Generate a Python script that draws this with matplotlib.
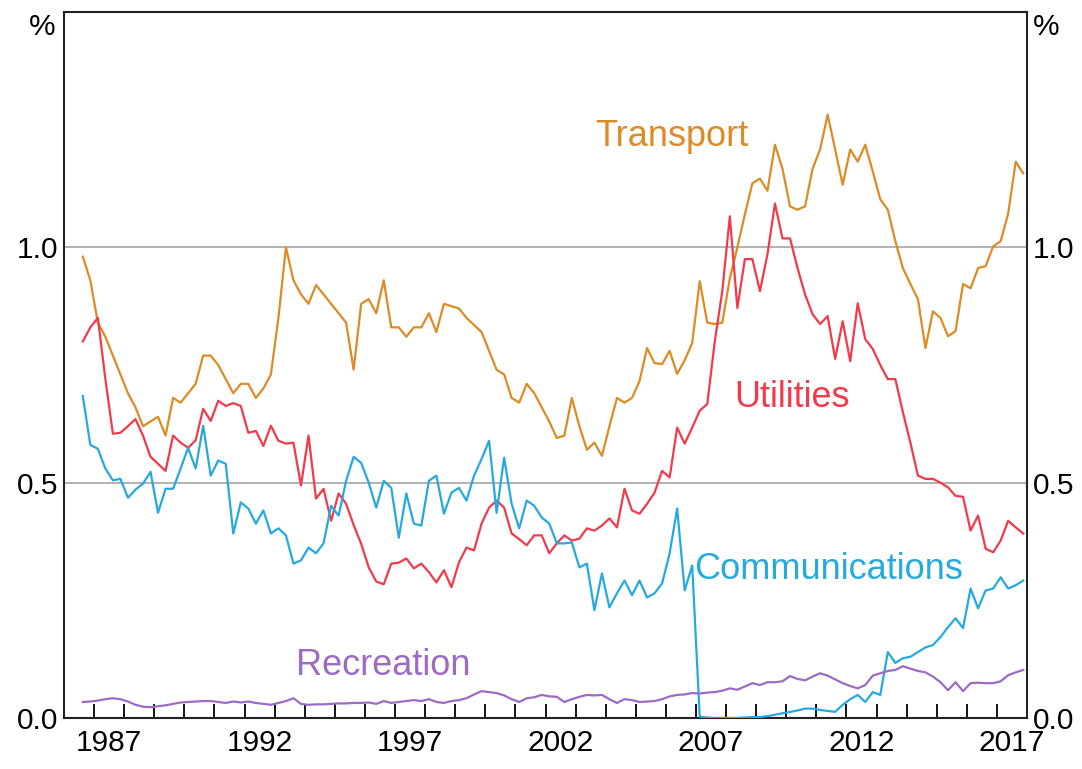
import numpy as np
import pandas as pd
import matplotlib
matplotlib.use("Agg")
import matplotlib.pyplot as plt
from matplotlib.ticker import FixedLocator, NullFormatter, FixedFormatter

# quarterly data, 1986 Q3 - 2017 Q4
start_quarter = "1986Q3"

transport = [
    0.98, 0.93, 0.84, 0.81, 0.77, 0.73, 0.69, 0.66, 0.62, 0.63,
    0.64, 0.60, 0.68, 0.67, 0.69, 0.71, 0.77, 0.77, 0.75, 0.72,
    0.69, 0.71, 0.71, 0.68, 0.70, 0.73, 0.85, 1.00, 0.93, 0.90,
    0.88, 0.92, 0.90, 0.88, 0.86, 0.84, 0.74, 0.88, 0.89, 0.86,
    0.93, 0.83, 0.83, 0.81, 0.83, 0.83, 0.86, 0.82, 0.88, 0.875,
    0.87, 0.85, 0.835, 0.82, 0.78, 0.74, 0.73, 0.68, 0.67, 0.71,
    0.69, 0.66, 0.63, 0.595, 0.60, 0.68, 0.62, 0.57, 0.585, 0.557,
    0.62, 0.68, 0.67, 0.68, 0.716, 0.786, 0.754, 0.752, 0.78, 0.731,
    0.76, 0.797, 0.928, 0.84, 0.837, 0.84, 0.934, 1.00, 1.07, 1.136,
    1.146, 1.12, 1.218, 1.167, 1.087, 1.08, 1.087, 1.167, 1.208, 1.282,
    1.208, 1.133, 1.208, 1.182, 1.218, 1.161, 1.102, 1.08, 1.013, 0.956,
    0.922, 0.89, 0.786, 0.864, 0.85, 0.811, 0.822, 0.922, 0.913, 0.956,
    0.96, 1.002, 1.013, 1.072, 1.182, 1.157,
]

utilities = [
    0.80, 0.83, 0.85, 0.72, 0.604, 0.606, 0.62, 0.635, 0.60, 0.555,
    0.54, 0.525, 0.60, 0.585, 0.574, 0.59, 0.657, 0.631, 0.674, 0.663,
    0.669, 0.663, 0.606, 0.61, 0.578, 0.621, 0.589, 0.583, 0.585, 0.494,
    0.60, 0.466, 0.487, 0.419, 0.477, 0.455, 0.41, 0.37, 0.32, 0.29,
    0.284, 0.328, 0.33, 0.339, 0.318, 0.328, 0.31, 0.288, 0.314, 0.278,
    0.331, 0.362, 0.356, 0.413, 0.447, 0.462, 0.447, 0.392, 0.38, 0.367,
    0.388, 0.388, 0.35, 0.371, 0.388, 0.377, 0.381, 0.403, 0.398, 0.409,
    0.424, 0.405, 0.487, 0.441, 0.434, 0.455, 0.479, 0.525, 0.511, 0.617,
    0.583, 0.617, 0.653, 0.667, 0.80, 0.907, 1.066, 0.871, 0.975, 0.975,
    0.907, 0.985, 1.093, 1.019, 1.019, 0.956, 0.90, 0.858, 0.837, 0.854,
    0.763, 0.843, 0.758, 0.881, 0.805, 0.784, 0.75, 0.72, 0.72, 0.65,
    0.585, 0.515, 0.508, 0.508, 0.50, 0.49, 0.472, 0.47, 0.398, 0.43,
    0.36, 0.352, 0.377, 0.419, 0.405, 0.392,
]

communications = [
    0.684, 0.58, 0.572, 0.53, 0.505, 0.508, 0.468, 0.485, 0.498, 0.523,
    0.436, 0.487, 0.487, 0.53, 0.574, 0.53, 0.621, 0.515, 0.547, 0.54,
    0.392, 0.458, 0.445, 0.413, 0.441, 0.392, 0.403, 0.388, 0.328, 0.335,
    0.362, 0.35, 0.371, 0.451, 0.43, 0.504, 0.555, 0.542, 0.50, 0.447,
    0.504, 0.489, 0.383, 0.477, 0.413, 0.409, 0.504, 0.515, 0.434, 0.479,
    0.489, 0.462, 0.515, 0.55, 0.589, 0.436, 0.553, 0.455, 0.403, 0.462,
    0.451, 0.426, 0.413, 0.371, 0.371, 0.373, 0.32, 0.328, 0.229, 0.307,
    0.235, 0.265, 0.292, 0.261, 0.292, 0.256, 0.265, 0.286, 0.35, 0.445,
    0.271, 0.324, 0.003, 0.001, 0.0, 0.0, 0.0, 0.0, 0.001, 0.002,
    0.002, 0.004, 0.007, 0.01, 0.013, 0.016, 0.02, 0.02, 0.017, 0.015,
    0.013, 0.028, 0.04, 0.049, 0.034, 0.055, 0.049, 0.14, 0.117, 0.127,
    0.13, 0.14, 0.15, 0.155, 0.172, 0.193, 0.212, 0.191, 0.275, 0.233,
    0.271, 0.275, 0.299, 0.275, 0.282, 0.292,
]

recreation = [
    0.034, 0.035, 0.037, 0.040, 0.042, 0.040, 0.035, 0.028, 0.024, 0.023,
    0.025, 0.027, 0.030, 0.033, 0.034, 0.035, 0.036, 0.036, 0.034, 0.032,
    0.035, 0.033, 0.035, 0.032, 0.030, 0.028, 0.032, 0.036, 0.042, 0.030,
    0.028, 0.029, 0.029, 0.030, 0.031, 0.031, 0.032, 0.032, 0.033, 0.030,
    0.036, 0.032, 0.034, 0.036, 0.038, 0.036, 0.040, 0.034, 0.032, 0.036,
    0.038, 0.042, 0.050, 0.057, 0.055, 0.053, 0.048, 0.040, 0.034, 0.042,
    0.044, 0.049, 0.046, 0.045, 0.034, 0.040, 0.045, 0.049, 0.048, 0.049,
    0.040, 0.032, 0.040, 0.038, 0.034, 0.035, 0.036, 0.040, 0.046, 0.049,
    0.050, 0.053, 0.052, 0.054, 0.055, 0.058, 0.063, 0.060, 0.067, 0.074,
    0.070, 0.076, 0.076, 0.078, 0.089, 0.083, 0.080, 0.088, 0.095, 0.090,
    0.082, 0.074, 0.068, 0.063, 0.070, 0.090, 0.095, 0.100, 0.102, 0.110,
    0.105, 0.100, 0.097, 0.088, 0.076, 0.059, 0.076, 0.057, 0.074, 0.075,
    0.074, 0.074, 0.078, 0.091, 0.097, 0.102,
]

series_names = ["Transport", "Utilities", "Communications", "Recreation"]
series_colors = ["#DE8A25", "#F23A4A", "#25A9E0", "#9C6BC4"]
# label positions in data coordinates (decimal year, %)
label_pos = [(2006.2, 1.235), (2010.2, 0.68), (2011.4, 0.316), (1996.6, 0.112)]

year_labels = [1987, 1992, 1997, 2002, 2007, 2012, 2017]
y_ticks = [0.0, 0.5, 1.0]

# mid-quarter decimal dates
quarters = pd.period_range(start_quarter, periods=len(transport), freq="Q")
t = quarters.year + (quarters.quarter - 0.5) / 4.0

plt.rcParams["font.family"] = ["Liberation Sans", "DejaVu Sans"]

fig = plt.figure(figsize=(10.82, 7.69), dpi=100)
ax = fig.add_axes([64 / 1082, 1 - 718 / 769, (1027 - 64) / 1082, (718 - 12) / 769])

all_series = [transport, utilities, communications, recreation]
for vals, name, col, pos in zip(all_series, series_names, series_colors, label_pos):
    ax.plot(t, vals, color=col, linewidth=1.6, zorder=3)
    ax.text(pos[0], pos[1], name, color=col, fontsize=26,
            ha="center", va="center")

ax.set_xlim(1986, 2018)
ax.set_ylim(0, 1.5)

# year ticks at boundaries, labels in the middle of each year
ax.xaxis.set_major_locator(FixedLocator(np.arange(1987, 2018)))
ax.xaxis.set_major_formatter(NullFormatter())
ax.xaxis.set_minor_locator(FixedLocator([y + 0.5 for y in year_labels]))
ax.xaxis.set_minor_formatter(FixedFormatter([str(y) for y in year_labels]))
ax.tick_params(axis="x", which="major", direction="in", length=10, width=1.3,
               color="black")
ax.tick_params(axis="x", which="minor", length=0, pad=8, labelsize=21.5)

ax.set_yticks(y_ticks)
ax.set_yticklabels([f"{v:.1f}" for v in y_ticks])
ax.tick_params(axis="y", length=0, pad=4, labelsize=21.5,
               labelleft=True, labelright=True)

for v in [0.5, 1.0]:
    ax.axhline(v, color="#A6A6A6", linewidth=1.2, zorder=1)

for sp in ax.spines.values():
    sp.set_linewidth(1.5)
    sp.set_color("#222222")

fig.text(42 / 1082, 1 - 27 / 769, "%", fontsize=21.5, ha="center", va="center")
fig.text(1046 / 1082, 1 - 27 / 769, "%", fontsize=21.5, ha="center", va="center")

fig.savefig("out.png", dpi=100)
